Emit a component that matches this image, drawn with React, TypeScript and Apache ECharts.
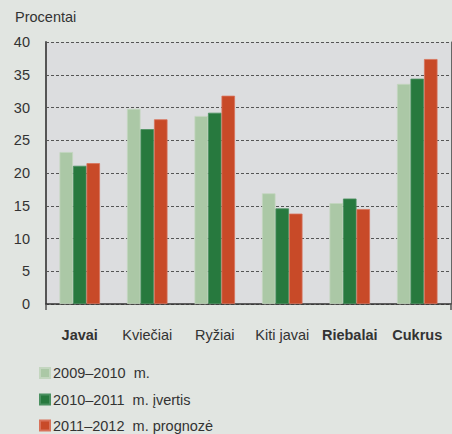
import React, { useEffect, useRef } from "react";
import * as echarts from "echarts";

const categories = ["Javai", "Kviečiai", "Ryžiai", "Kiti javai", "Riebalai", "Cukrus"];
const boldCategories = ["Javai", "Riebalai", "Cukrus"];
const seriesNames = ["2009–2010  m.", "2010–2011  m. įvertis", "2011–2012  m. prognozė"];
const values2009 = [23.2, 29.8, 28.7, 16.9, 15.4, 33.6];
const values2010 = [21.1, 26.7, 29.2, 14.6, 16.1, 34.4];
const values2011 = [21.5, 28.2, 31.8, 13.8, 14.5, 37.4];
const yTicks = [0, 5, 10, 15, 20, 25, 30, 35, 40];
const colors = ["#abc8a6", "#27793e", "#c84a28"];
const borders = ["#c3d6bf", "#4a9060", "#d8725a"];

const FONT = "'Liberation Sans', Arial, sans-serif";

export default function App() {
  const ref = useRef<HTMLDivElement>(null);
  useEffect(() => {
    if (!ref.current) return;
    const chart = echarts.init(ref.current, undefined, { renderer: "svg" });
    const allSeries = [values2009, values2010, values2011];
    const legendTops = [365, 391.5, 417.5];
    chart.setOption({
      animation: false,
      backgroundColor: "#e1e5e1",
      textStyle: { fontFamily: FONT },
      graphic: [
        {
          type: "text",
          left: 15,
          top: 9,
          style: { text: "Procentai", fontSize: 14.5, fill: "#333", fontFamily: FONT },
        },
      ],
      legend: seriesNames.map((name, i) => ({
        orient: "vertical",
        left: 39,
        top: legendTops[i],
        padding: 0,
        itemWidth: 10,
        itemHeight: 10,
        icon: "rect",
        data: [name],
        textStyle: { fontSize: 14.5, color: "#333", fontFamily: FONT, lineHeight: 16, padding: [0, 0, 0, -2] },
      })),
      grid: {
        left: 46,
        right: 1,
        top: 42,
        bottom: 130,
        show: true,
        backgroundColor: "#dcdddf",
        borderWidth: 0,
      },
      xAxis: {
        type: "category",
        data: categories,
        axisLine: { lineStyle: { color: "#333", width: 1.5 } },
        axisTick: {
          show: true,
          length: 6,
          interval: (i: number) => i === 0,
          lineStyle: { color: "#555", width: 1.5 },
        },
        axisLabel: {
          interval: 0,
          margin: 23,
          fontSize: 14.5,
          color: "#333",
          fontFamily: FONT,
          formatter: (v: string) => (boldCategories.includes(v) ? `{b|${v}}` : v),
          rich: { b: { fontWeight: "bold", fontSize: 14.5, color: "#333", fontFamily: FONT } },
        },
      },
      yAxis: [
        {
          type: "value",
          min: 0,
          max: 40,
          interval: 5,
          axisLine: { show: true, lineStyle: { color: "#555", width: 2 } },
          axisTick: { show: false },
          axisLabel: {
            margin: 16,
            fontSize: 14.5,
            color: "#333",
            fontFamily: FONT,
            formatter: (v: number) => (yTicks.includes(v) ? String(v) : ""),
          },
          splitLine: { show: true, lineStyle: { color: "#555", type: [3, 2], width: 1 } },
        },
        {
          type: "value",
          min: 0,
          max: 40,
          interval: 5,
          position: "right",
          axisLine: { show: true, lineStyle: { color: "#666", width: 1 } },
          axisTick: { show: false },
          axisLabel: { show: false },
          splitLine: { show: false },
        },
      ],
      series: allSeries.map((data, i) => ({
        type: "bar",
        name: seriesNames[i],
        data,
        barWidth: 13.5,
        barGap: "0%",
        itemStyle: { color: colors[i], borderColor: borders[i], borderWidth: 0.8 },
      })),
      color: colors,
    });
    return () => chart.dispose();
  }, []);
  return <div ref={ref} style={{ width: 452, height: 434, position: "absolute", left: 0, top: 0 }} />;
}
